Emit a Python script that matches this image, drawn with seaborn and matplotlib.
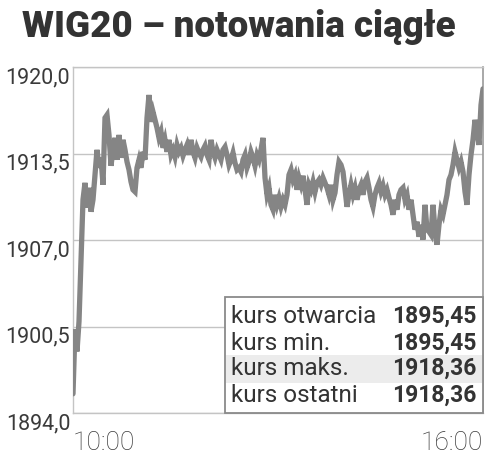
import matplotlib
matplotlib.use("Agg")
import matplotlib.pyplot as plt
import seaborn as sns
import pandas as pd
from matplotlib.patches import Rectangle

# ---------------- data ----------------
title = "WIG20 – notowania ciągłe"
prices = [
    1895.45, 1900.28, 1898.63, 1900.88, 1905.38, 1910.03, 1911.30, 1909.43, 1910.93, 1909.13,
    1910.03, 1911.90, 1913.78, 1912.43, 1913.18, 1911.15, 1916.18, 1916.40, 1914.90, 1912.58,
    1913.78, 1914.68, 1913.03, 1914.90, 1913.18, 1914.53, 1913.78, 1912.88, 1912.28, 1911.38,
    1910.78, 1910.63, 1912.43, 1913.03, 1912.43, 1913.63, 1913.03, 1916.18, 1917.90, 1915.88,
    1916.63, 1916.03, 1915.43, 1914.68, 1915.13, 1913.93, 1914.53, 1913.63, 1914.53, 1913.40,
    1913.78, 1913.25, 1914.15, 1913.63, 1913.93, 1913.33, 1913.78, 1914.15, 1913.40, 1914.53,
    1913.63, 1913.18, 1913.93, 1913.55, 1913.25, 1913.78, 1914.08, 1913.40, 1913.03, 1914.53,
    1913.63, 1913.18, 1913.78, 1913.40, 1913.03, 1913.78, 1914.00, 1913.40, 1912.65, 1913.03,
    1913.55, 1912.80, 1912.28, 1912.43, 1912.13, 1913.03, 1913.40, 1912.43, 1912.88, 1913.63,
    1913.18, 1912.58, 1913.40, 1913.03, 1913.78, 1914.68, 1911.68, 1910.40, 1910.93, 1909.65,
    1909.28, 1910.40, 1909.65, 1910.18, 1909.50, 1910.03, 1909.65, 1910.40, 1911.90, 1912.28,
    1911.53, 1911.90, 1910.78, 1911.68, 1911.15, 1911.83, 1910.78, 1909.65, 1911.15, 1910.78,
    1911.38, 1910.63, 1911.30, 1911.53, 1911.15, 1911.68, 1911.30, 1910.93, 1910.40, 1911.15,
    1910.03, 1910.55, 1911.90, 1912.88, 1912.65, 1912.13, 1910.78, 1909.50, 1910.40, 1911.15,
    1910.40, 1910.93, 1910.03, 1910.78, 1911.15, 1910.40, 1911.38, 1911.68, 1910.93, 1910.03,
    1909.50, 1910.40, 1910.93, 1911.30, 1910.63, 1911.08, 1910.40, 1910.78, 1910.18, 1909.65,
    1908.90, 1910.03, 1909.28, 1910.40, 1910.78, 1910.93, 1910.03, 1910.40, 1909.28, 1910.03,
    1908.90, 1907.78, 1908.38, 1907.25, 1908.15, 1907.03, 1909.65, 1907.78, 1907.63, 1907.40,
    1909.65, 1907.78, 1906.65, 1908.15, 1909.28, 1908.90, 1909.65, 1910.40, 1911.53, 1911.90,
    1912.65, 1913.63, 1913.03, 1912.43, 1912.88, 1912.13, 1910.63, 1909.65, 1911.90, 1913.40,
    1914.53, 1916.03, 1915.28, 1914.15, 1917.15, 1918.36,
]
y_ticks = [1894.0, 1900.5, 1907.0, 1913.5, 1920.0]
y_tick_labels = ["1894,0", "1900,5", "1907,0", "1913,5", "1920,0"]
x_tick_labels = ["10:00", "16:00"]
table_labels = ["kurs otwarcia", "kurs min.", "kurs maks.", "kurs ostatni"]
table_values = ["1895,45", "1895,45", "1918,36", "1918,36"]

df = pd.DataFrame({"t": range(len(prices)), "kurs": prices})

# ---------------- figure ----------------
sns.set_theme(style="white")
plt.rcParams["font.family"] = ["Roboto", "DejaVu Sans"]

fig = plt.figure(figsize=(5.0, 4.59), dpi=100)
ax = fig.add_axes([0.146, 0.100, 0.820, 0.754])

grid_col = "#c4c4c4"
for yv in y_ticks:
    ax.axhline(yv, color=grid_col, lw=1.0, zorder=0)

sns.lineplot(data=df, x="t", y="kurs", ax=ax, color="#858585", lw=3.8,
             solid_joinstyle="miter", zorder=3)

ax.set_xlim(0, len(prices) - 1)
ax.set_ylim(y_ticks[0], y_ticks[-1])
ax.set_xlabel("")
ax.set_ylabel("")

ax.set_yticks(y_ticks)
ax.set_yticklabels(y_tick_labels, fontsize=15.5, color="#3a3a3a")
for lab in ax.get_yticklabels():
    lab.set_verticalalignment("top")
ax.tick_params(axis="y", length=0, pad=2)

ax.set_xticks([0, len(prices) - 1])
ax.set_xticklabels(x_tick_labels, fontsize=19, color="#3a3a3a", fontweight="light")
xl = ax.get_xticklabels()
xl[0].set_horizontalalignment("left")
xl[1].set_horizontalalignment("right")
ax.tick_params(axis="x", length=0, pad=13)
xl[0].set_x(0)

for s in ["left", "bottom", "top"]:
    ax.spines[s].set_color(grid_col)
    ax.spines[s].set_linewidth(1.0)
ax.spines["right"].set_color("#9a9a9a")
ax.spines["right"].set_linewidth(1.2)

# ---------------- summary table ----------------
bx0, by0, bx1, by1 = 0.371, 0.0, 1.0, 0.335
ax.add_patch(Rectangle((bx0, by0), bx1 - bx0, by1 - by0, transform=ax.transAxes,
                       facecolor="white", edgecolor="#8a8a8a", lw=1.3, zorder=5,
                       clip_on=False))
ax.add_patch(Rectangle((bx0 + 0.003, 0.0867), bx1 - bx0 - 0.006, 0.081,
                       transform=ax.transAxes, facecolor="#ececec",
                       edgecolor="none", zorder=6, clip_on=False))
row_base = [0.260, 0.182, 0.110, 0.032]
for lab, val, yb in zip(table_labels, table_values, row_base):
    ax.text(0.385, yb, lab, transform=ax.transAxes, ha="left", va="baseline",
            fontsize=17.5, color="#333333", zorder=7)
    ax.text(0.985, yb, val, transform=ax.transAxes, ha="right", va="baseline",
            fontsize=16.5, color="#333333", fontweight="bold", zorder=7)

# ---------------- title ----------------
fig.text(0.044, 0.919, title, ha="left", va="baseline", fontsize=26.5,
         fontweight="heavy", color="#333333")

fig.savefig("out.png", dpi=100)
